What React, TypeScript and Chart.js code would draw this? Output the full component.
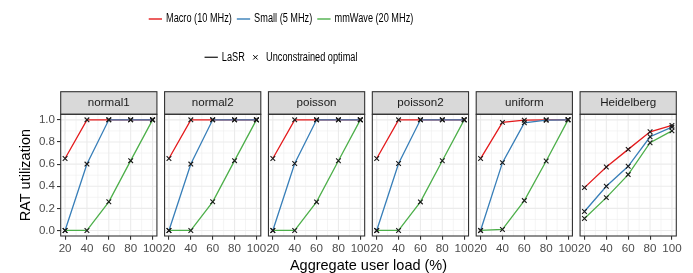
import React, { useEffect, useRef } from 'react';
import { Chart, registerables } from 'chart.js';

Chart.register(...registerables);

// ---------- data ----------
const loads = [20, 40, 60, 80, 100];
const panelNames = ['normal1', 'normal2', 'poisson', 'poisson2', 'uniform', 'Heidelberg'];
const seriesNames = ['Macro (10 MHz)', 'Small (5 MHz)', 'mmWave (20 MHz)'];
const seriesColors = ['#E41A1C', '#377EB8', '#4DAF4A'];
const yTickValues = [0, 0.2, 0.4, 0.6, 0.8, 1.0];

// LaSR utilization, one row per panel (order of panelNames), one value per load
const macroLasr = [
  [0.65, 1.0, 1.0, 1.0, 1.0],
  [0.65, 1.0, 1.0, 1.0, 1.0],
  [0.65, 1.0, 1.0, 1.0, 1.0],
  [0.65, 1.0, 1.0, 1.0, 1.0],
  [0.65, 0.977, 0.997, 1.0, 1.0],
  [0.387, 0.574, 0.733, 0.892, 0.95],
];
const smallLasr = [
  [0.0, 0.6, 1.0, 1.0, 1.0],
  [0.0, 0.6, 1.0, 1.0, 1.0],
  [0.0, 0.605, 1.0, 1.0, 1.0],
  [0.0, 0.605, 1.0, 1.0, 1.0],
  [0.0, 0.613, 0.973, 0.997, 1.0],
  [0.171, 0.4, 0.58, 0.847, 0.934],
];
const mmwaveLasr = [
  [0.0, 0.0, 0.259, 0.631, 1.0],
  [0.0, 0.0, 0.259, 0.631, 1.0],
  [0.0, 0.0, 0.258, 0.63, 1.0],
  [0.0, 0.0, 0.258, 0.63, 1.0],
  [0.0, 0.009, 0.27, 0.628, 1.0],
  [0.108, 0.297, 0.505, 0.793, 0.9],
];

// Unconstrained optimal
const macroOptimal = [
  [0.65, 1.0, 1.0, 1.0, 1.0],
  [0.65, 1.0, 1.0, 1.0, 1.0],
  [0.65, 1.0, 1.0, 1.0, 1.0],
  [0.65, 1.0, 1.0, 1.0, 1.0],
  [0.65, 0.977, 0.997, 1.0, 1.0],
  [0.387, 0.574, 0.733, 0.892, 0.95],
];
const smallOptimal = [
  [0.0, 0.6, 1.0, 1.0, 1.0],
  [0.0, 0.6, 1.0, 1.0, 1.0],
  [0.0, 0.605, 1.0, 1.0, 1.0],
  [0.0, 0.605, 1.0, 1.0, 1.0],
  [0.0, 0.613, 0.973, 0.997, 1.0],
  [0.171, 0.4, 0.58, 0.847, 0.934],
];
const mmwaveOptimal = [
  [0.0, 0.0, 0.259, 0.631, 1.0],
  [0.0, 0.0, 0.259, 0.631, 1.0],
  [0.0, 0.0, 0.258, 0.63, 1.0],
  [0.0, 0.0, 0.258, 0.63, 1.0],
  [0.0, 0.009, 0.27, 0.628, 1.0],
  [0.108, 0.297, 0.505, 0.793, 0.9],
];

// ---------- layout constants ----------
const W = 693;
const H = 273;
const X_LO = 16; // panel x-range 16..104
const SPAN = 88;
const STEP = 95; // data units between panel starts
const FONT = '"Liberation Sans", Arial, sans-serif';
const LEGEND_SQUEEZE = 0.765;

const toX = (panel: number, load: number) => panel * STEP + (load - X_LO);

const facetPlugin = {
  id: 'facets',
  beforeDatasetsDraw(chart: any) {
    const { ctx, chartArea, scales } = chart;
    const x = scales.x;
    const y = scales.y;
    ctx.save();
    ctx.strokeStyle = '#EBEBEB';
    for (let p = 0; p < panelNames.length; p++) {
      const l = x.getPixelForValue(toX(p, X_LO));
      const r = x.getPixelForValue(toX(p, X_LO + SPAN));
      // minor
      ctx.lineWidth = 0.55;
      ctx.beginPath();
      for (let v = 0.1; v < 1.0; v += 0.2) {
        const py = y.getPixelForValue(v);
        ctx.moveTo(l, py);
        ctx.lineTo(r, py);
      }
      for (let v = 30; v <= 90; v += 20) {
        const px = x.getPixelForValue(toX(p, v));
        ctx.moveTo(px, chartArea.top);
        ctx.lineTo(px, chartArea.bottom);
      }
      ctx.stroke();
      // major
      ctx.lineWidth = 1.1;
      ctx.beginPath();
      for (const v of yTickValues) {
        const py = y.getPixelForValue(v);
        ctx.moveTo(l, py);
        ctx.lineTo(r, py);
      }
      for (const v of loads) {
        const px = x.getPixelForValue(toX(p, v));
        ctx.moveTo(px, chartArea.top);
        ctx.lineTo(px, chartArea.bottom);
      }
      ctx.stroke();
    }
    ctx.restore();
  },
  afterDatasetsDraw(chart: any) {
    const { ctx, chartArea, scales } = chart;
    const x = scales.x;
    ctx.save();
    const stripH = 22.6;
    for (let p = 0; p < panelNames.length; p++) {
      const l = x.getPixelForValue(toX(p, X_LO));
      const r = x.getPixelForValue(toX(p, X_LO + SPAN));
      // strip
      ctx.fillStyle = '#D9D9D9';
      ctx.fillRect(l, chartArea.top - stripH, r - l, stripH);
      ctx.strokeStyle = '#333333';
      ctx.lineWidth = 1.1;
      ctx.strokeRect(l, chartArea.top - stripH, r - l, stripH);
      ctx.fillStyle = '#1A1A1A';
      ctx.font = `11.6px ${FONT}`;
      ctx.textAlign = 'center';
      ctx.textBaseline = 'middle';
      ctx.fillText(panelNames[p], (l + r) / 2, chartArea.top - stripH / 2);
      // panel border
      ctx.strokeRect(l, chartArea.top, r - l, chartArea.bottom - chartArea.top);
    }
    ctx.restore();
  },
  afterDraw(chart: any) {
    const { ctx, chartArea } = chart;
    ctx.save();
    // axis titles
    ctx.fillStyle = '#000000';
    ctx.font = `14.5px ${FONT}`;
    ctx.textAlign = 'center';
    ctx.textBaseline = 'alphabetic';
    ctx.fillText('Aggregate user load (%)', (chartArea.left + chartArea.right) / 2, 269.7);
    ctx.save();
    ctx.translate(30.2, (chartArea.top + chartArea.bottom) / 2);
    ctx.rotate(-Math.PI / 2);
    ctx.fillText('RAT utilization', 0, 0);
    ctx.restore();

    // legend
    const cx = 281;
    ctx.font = `12px ${FONT}`;
    ctx.textBaseline = 'middle';
    ctx.textAlign = 'left';
    const tw = (s: string) => ctx.measureText(s).width * LEGEND_SQUEEZE;
    const drawText = (s: string, tx: number, ty: number) => {
      ctx.save();
      ctx.translate(tx, ty);
      ctx.scale(LEGEND_SQUEEZE, 1);
      ctx.fillText(s, 0, 0);
      ctx.restore();
    };
    const keyW = 13.3;
    const gapKT = 4;
    const gapTK = 5;
    // row 1
    const row1y = 19;
    let total = 0;
    seriesNames.forEach((s, i) => {
      total += keyW + gapKT + tw(s) + (i < seriesNames.length - 1 ? gapTK : 0);
    });
    let px = cx - total / 2;
    seriesNames.forEach((s, i) => {
      ctx.strokeStyle = seriesColors[i];
      ctx.lineWidth = 1.4;
      ctx.beginPath();
      ctx.moveTo(px, row1y);
      ctx.lineTo(px + keyW, row1y);
      ctx.stroke();
      px += keyW + gapKT;
      ctx.fillStyle = '#000000';
      drawText(s, px, row1y);
      px += tw(s) + gapTK;
    });
    // row 2
    const row2y = 57.3;
    const t1 = 'LaSR';
    const t2 = 'Unconstrained optimal';
    const w2 = keyW + gapKT + tw(t1) + 21.3 + tw(t2);
    px = cx - w2 / 2;
    ctx.strokeStyle = '#333333';
    ctx.lineWidth = 1.4;
    ctx.beginPath();
    ctx.moveTo(px, row2y);
    ctx.lineTo(px + keyW, row2y);
    ctx.stroke();
    px += keyW + gapKT;
    ctx.fillStyle = '#000000';
    drawText(t1, px, row2y);
    px += tw(t1) + 10.6;
    // cross key
    ctx.strokeStyle = '#000000';
    ctx.lineWidth = 1;
    const c = 2.2;
    ctx.beginPath();
    ctx.moveTo(px - c, row2y - c);
    ctx.lineTo(px + c, row2y + c);
    ctx.moveTo(px - c, row2y + c);
    ctx.lineTo(px + c, row2y - c);
    ctx.stroke();
    px += 10.7;
    drawText(t2, px, row2y);
    ctx.restore();
  },
};

function buildDatasets() {
  const lasr = [macroLasr, smallLasr, mmwaveLasr];
  const optimal = [macroOptimal, smallOptimal, mmwaveOptimal];
  const datasets: any[] = [];
  panelNames.forEach((_, p) => {
    lasr.forEach((series, s) => {
      datasets.push({
        type: 'line',
        label: `${seriesNames[s]} ${panelNames[p]}`,
        data: loads.map((v, k) => ({ x: toX(p, v), y: series[p][k] })),
        borderColor: seriesColors[s],
        backgroundColor: seriesColors[s],
        borderWidth: 1.3,
        pointRadius: 0,
        tension: 0,
        fill: false,
        order: 3 - s,
      });
    });
  });
  panelNames.forEach((_, p) => {
    optimal.forEach((series, s) => {
      datasets.push({
        type: 'scatter',
        label: `Unconstrained optimal ${seriesNames[s]} ${panelNames[p]}`,
        data: loads.map((v, k) => ({ x: toX(p, v), y: series[p][k] })),
        pointStyle: 'crossRot',
        pointRadius: 3.3,
        pointBorderWidth: 1.1,
        borderColor: '#1a1a1a',
        backgroundColor: '#1a1a1a',
        showLine: false,
        order: 0,
      });
    });
  });
  return datasets;
}

export default function App() {
  const ref = useRef<HTMLCanvasElement | null>(null);
  useEffect(() => {
    if (!ref.current) return;
    const chart = new Chart(ref.current, {
      type: 'scatter',
      data: { datasets: buildDatasets() },
      options: {
        animation: false,
        responsive: false,
        devicePixelRatio: 1,
        clip: false as any,
        layout: { padding: { top: 114.3, left: 0, right: W - 676.3, bottom: 0 } },
        plugins: { legend: { display: false }, tooltip: { enabled: false } },
        scales: {
          x: {
            type: 'linear',
            min: 0,
            max: toX(panelNames.length - 1, X_LO + SPAN),
            afterBuildTicks: (scale: any) => {
              scale.ticks = panelNames.flatMap((_, p) => loads.map((v) => ({ value: toX(p, v) })));
            },
            afterFit: (scale: any) => {
              scale.height = H - 236;
            },
            ticks: {
              autoSkip: false,
              maxRotation: 0,
              minRotation: 0,
              padding: 2,
              color: '#4D4D4D',
              font: { family: FONT, size: 11.6 },
              callback: (_v: any, i: number) => String(loads[i % loads.length]),
            },
            grid: { display: true, drawOnChartArea: false, drawTicks: true, tickLength: 3.7, color: '#333333', lineWidth: 1.1 },
            border: { display: false },
          },
          y: {
            type: 'linear',
            min: -0.05,
            max: 1.05,
            afterBuildTicks: (scale: any) => {
              scale.ticks = yTickValues.map((v) => ({ value: v }));
            },
            afterFit: (scale: any) => {
              scale.width = 60.7;
            },
            ticks: {
              padding: 2,
              color: '#4D4D4D',
              font: { family: FONT, size: 11.6 },
              callback: (v: any) => Number(v).toFixed(1),
            },
            grid: { display: true, drawOnChartArea: false, drawTicks: true, tickLength: 3.7, color: '#333333', lineWidth: 1.1 },
            border: { display: false },
          },
        },
      } as any,
      plugins: [facetPlugin],
    });
    return () => chart.destroy();
  }, []);
  return (
    <div style={{ position: 'fixed', left: 0, top: 0, width: W, height: H, background: '#ffffff' }}>
      <canvas ref={ref} width={W} height={H} style={{ display: 'block', width: W, height: H }} />
    </div>
  );
}
